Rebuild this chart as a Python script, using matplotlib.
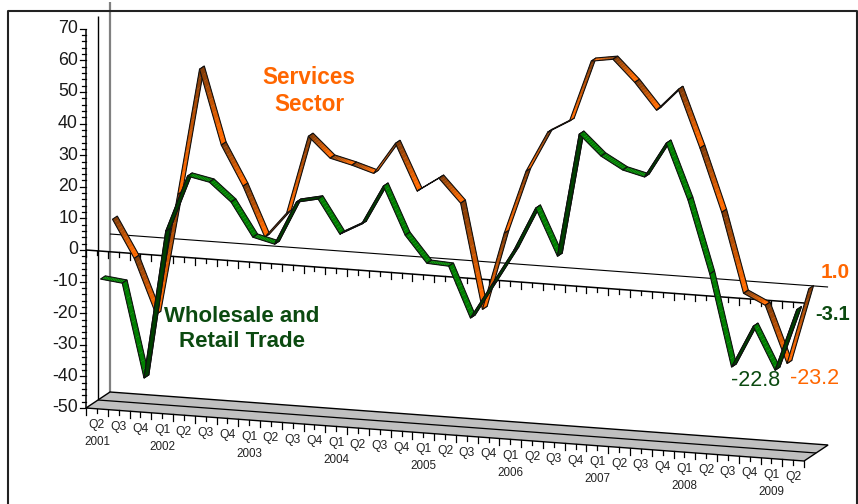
import numpy as np
import matplotlib
matplotlib.use('Agg')
import matplotlib.pyplot as plt
from matplotlib.collections import PolyCollection
from matplotlib.patches import Polygon
from matplotlib.colors import to_rgb

plt.rcParams['font.family'] = ['Liberation Sans', 'DejaVu Sans']

# quarterly values, Q2 2001 to Q2 2009
services = [6.7, -5.2, -22.4, 16.1, 56.2, 32.7, 20.2, 4.6, 12.7, 37.5, 31.1, 29.4, 27.3, 37.3, 22.7, 27.3, 19.9,
            -13.2, 11.4, 31.5, 44.4, 48.4, 67.9, 69.0, 62.2, 53.9, 61.0, 42.9, 23.1, -2.0, -5.3, -23.2, 1.0]
wholesale = [-9.7, -10.5, -40.0, 7.0, 24.9, 23.5, 17.7, 7.1, 5.4, 19.2, 20.7, 10.1, 13.8, 26.3, 11.3, 2.9, 2.5,
             -13.4, -2.2, 9.1, 22.9, 8.2, 47.3, 40.9, 37.0, 35.3, 46.5, 29.0, 6.1, -22.8, -9.4, -22.8, -3.1]
quarters = ['Q2', 'Q3', 'Q4', 'Q1', 'Q2', 'Q3', 'Q4', 'Q1', 'Q2', 'Q3', 'Q4', 'Q1', 'Q2', 'Q3', 'Q4', 'Q1', 'Q2',
            'Q3', 'Q4', 'Q1', 'Q2', 'Q3', 'Q4', 'Q1', 'Q2', 'Q3', 'Q4', 'Q1', 'Q2', 'Q3', 'Q4', 'Q1', 'Q2']
years = ['2001', '2002', '2003', '2004', '2005', '2006', '2007', '2008', '2009']
year_pos = [0, 3, 7, 11, 15, 19, 23, 27, 31]
y_ticks = list(range(-50, 71, 10))

fig = plt.figure(figsize=(8.58, 5.04), dpi=100)
ax = fig.add_axes([0, 0, 1, 1])
ax.set_xlim(0, 858)
ax.set_ylim(504, 0)
ax.axis('off')

def project(c, v, depth=0.0):
    # oblique view: category position c, value v, depth 0 (front) to 1 (back wall)
    c = np.asarray(c, dtype=float)
    v = np.asarray(v, dtype=float)
    x = 86 + 21.76 * c + 24 * depth
    y = 250 + 1.606 * c - 3.16 * v - 16 * depth
    return x, y

def line3d(c, v, depth=0.0, **kw):
    x, y = project(c, v, depth)
    ax.plot(x, y, solid_capstyle='butt', **kw)

n = len(services)
edges = np.arange(n + 1)
mids = edges[:-1] + 0.5

# walls
line3d([0, 0], [-50, 73.5], 1, color='#808080', lw=1.6, zorder=1)
line3d([0, 0], [-50, 71.5], 0.5, color='black', lw=1.0, zorder=1)
line3d([0, n], [0, 0], 1, color='black', lw=0.8, zorder=1)

# floor
fx, fy = project([0, n, n, 0], [-50, -50, -50, -50], np.array([0, 0, 1, 1]))
ax.add_patch(Polygon(np.c_[fx, fy], closed=True, fc='#c0c0c0', ec='black', lw=1.0, zorder=1))
line3d([0, n], [-50, -50], 0.5, color='black', lw=0.9, zorder=2)

# y axis
line3d([0, 0], [-50, 70], color='black', lw=1.1, zorder=2)
for t in range(-50, 71, 2):
    x, y = project(0, t)
    ln = 6 if t % 10 == 0 else 4
    ax.plot([x - ln, x], [y, y], color='black', lw=0.9, zorder=2)
for t in y_ticks:
    x, y = project(0, t)
    ax.text(x - 8, y, str(t), ha='right', va='center', fontsize=12.8, color='#1a1a1a')

# x axis at zero and at the floor
line3d([0, n], [0, 0], color='black', lw=1.1, zorder=2)
tick_c = np.arange(0, n + 0.25, 0.5)
for base in (0, -50):
    for k, c in enumerate(tick_c):
        x, y = project(c, base)
        ln = 6.5 if k % 2 == 0 else 4.5
        ax.plot([x, x], [y, y + ln], color='black', lw=0.9, zorder=2)

for c, q in zip(mids, quarters):
    x, y = project(c, -50)
    ax.text(x, y + 16.5, q, ha='center', va='center', fontsize=8.7, color='#222222')
for p, yr in zip(year_pos, years):
    x, y = project(p + 0.5, -50)
    ax.text(x, y + 33.5, yr, ha='center', va='center', fontsize=8.4, color='#222222')

def ribbon(vals, depth, col_a, col_b, z):
    # one parallelogram per quarter, shaded from col_a at the high end to col_b at the low end
    d0, d1 = depth - 0.1, depth + 0.1
    a, b = np.array(to_rgb(col_a)), np.array(to_rgb(col_b))
    for i in range(n - 1):
        v0, v1 = vals[i], vals[i + 1]
        hi_first = v0 >= v1
        polys, cols = [], []
        steps = 12
        for s in range(steps):
            t0, t1 = s / steps, (s + 1) / steps
            c = mids[i] + np.array([t0, t1, t1, t0])
            v = v0 + (v1 - v0) * np.array([t0, t1, t1, t0])
            x, y = project(c, v, np.array([d0, d0, d1, d1]))
            polys.append(np.c_[x, y])
            f = (t0 + t1) / 2 if hi_first else 1 - (t0 + t1) / 2
            cols.append(a + (b - a) * min(1, f * 1.15))
        ax.add_collection(PolyCollection(polys, facecolors=cols, edgecolors=cols, linewidths=0.2, zorder=z + i * 0.01))
        c = mids[i] + np.array([0, 1, 1, 0])
        v = np.array([v0, v1, v1, v0])
        x, y = project(c, v, np.array([d0, d0, d1, d1]))
        ax.add_patch(Polygon(np.c_[x, y], closed=True, fc='none', ec='#101010', lw=0.8, zorder=z + i * 0.01 + 0.001))

ribbon(services, 0.75, '#7f3b08', '#ff6a00', 3)
ribbon(wholesale, 0.25, '#008000', '#008000', 4)

# wholesale rising strips are the dark side of the ribbon
for i in range(n - 1):
    if wholesale[i + 1] > wholesale[i]:
        c = mids[i] + np.array([0, 1, 1, 0])
        v = np.array([wholesale[i], wholesale[i + 1], wholesale[i + 1], wholesale[i]])
        x, y = project(c, v, np.array([0.15, 0.15, 0.35, 0.35]))
        ax.add_patch(Polygon(np.c_[x, y], closed=True, fc='#004000', ec='#101010', lw=0.8, zorder=4 + i * 0.01 + 0.002))

ax.text(309, 91, 'Services\nSector', ha='center', va='center', fontsize=16.3, fontweight='bold',
        color='#ff6600', linespacing=1.2, zorder=6)
ax.text(242, 329, 'Wholesale and\nRetail Trade', ha='center', va='center', fontsize=16, fontweight='bold',
        color='#0b4a10', linespacing=1.2, zorder=6)
ax.text(835, 273, '1.0', ha='center', va='center', fontsize=15, fontweight='bold', color='#ff6600', zorder=6)
ax.text(833, 315, '-3.1', ha='center', va='center', fontsize=14.6, fontweight='bold', color='#0b4a10', zorder=6)
ax.text(756, 380, '-22.8', ha='center', va='center', fontsize=15.5, color='#0b4a10', zorder=6)
ax.text(815, 378, '-23.2', ha='center', va='center', fontsize=15.5, color='#ff6600', zorder=6)

# frame
ax.plot([7.5, 7.5, 857, 857], [504, 11, 11, 504], color='#222222', lw=1.5, zorder=7, clip_on=False)

fig.savefig('out.png', dpi=100)
